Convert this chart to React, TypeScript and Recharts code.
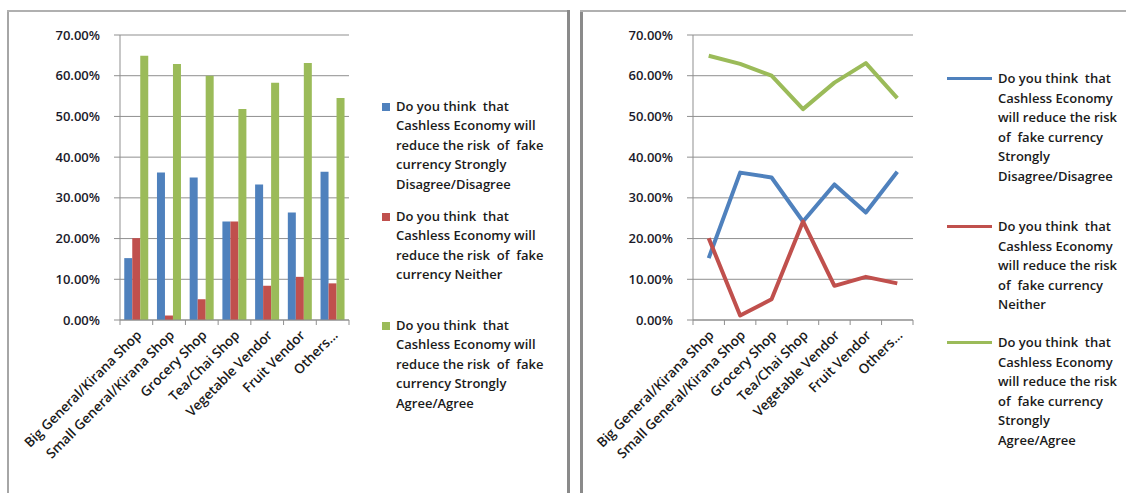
import React from 'react';
import { BarChart, Bar, LineChart, Line, XAxis, YAxis, CartesianGrid } from 'recharts';

const categories = [
  'Big General/Kirana Shop',
  'Small General/Kirana Shop',
  'Grocery Shop',
  'Tea/Chai Shop',
  'Vegetable Vendor',
  'Fruit Vendor',
  'Others...',
];
const disagree = [0.152, 0.362, 0.35, 0.242, 0.333, 0.264, 0.364];
const neither = [0.201, 0.011, 0.051, 0.242, 0.084, 0.106, 0.09];
const agree = [0.649, 0.629, 0.6, 0.518, 0.583, 0.631, 0.545];
const yTicks = [0, 0.1, 0.2, 0.3, 0.4, 0.5, 0.6, 0.7];

const seriesNames = [
  'Do you think  that Cashless Economy will reduce the risk  of  fake currency Strongly Disagree/Disagree',
  'Do you think  that Cashless Economy will reduce the risk  of  fake currency Neither',
  'Do you think  that Cashless Economy will reduce the risk  of  fake currency Strongly Agree/Agree',
];
const leftLegendLines = [
  ['Do you think  that', 'Cashless Economy will', 'reduce the risk  of  fake', 'currency Strongly', 'Disagree/Disagree'],
  ['Do you think  that', 'Cashless Economy will', 'reduce the risk  of  fake', 'currency Neither'],
  ['Do you think  that', 'Cashless Economy will', 'reduce the risk  of  fake', 'currency Strongly', 'Agree/Agree'],
];
const rightLegendLines = [
  ['Do you think  that', 'Cashless Economy', 'will reduce the risk', 'of  fake currency', 'Strongly', 'Disagree/Disagree'],
  ['Do you think  that', 'Cashless Economy', 'will reduce the risk', 'of  fake currency', 'Neither'],
  ['Do you think  that', 'Cashless Economy', 'will reduce the risk', 'of  fake currency', 'Strongly', 'Agree/Agree'],
];

const colors = ['#4F81BD', '#C0504D', '#9BBB59'];
const data = categories.map((c, i) => ({
  name: c,
  disagree: disagree[i],
  neither: neither[i],
  agree: agree[i],
}));

const FONT = '"Open Sans", sans-serif';
const GRID = '#8f8f8f';
const fmt = (v: number) => (v * 100).toFixed(2) + '%';

const makeXTick = (band: number, count: number) => (props: any) => {
  const { x, y, payload, index } = props;
  const ax = x + 6;
  const ay = y + 16;
  return (
    <g>
      <line x1={x - band / 2} x2={x - band / 2} y1={y} y2={y + 5} stroke={GRID} />
      {index === count - 1 && (
        <line x1={x + band / 2} x2={x + band / 2} y1={y} y2={y + 5} stroke={GRID} />
      )}
      <text
        x={ax}
        y={ay}
        textAnchor="end"
        transform={`rotate(-45, ${ax}, ${ay})`}
        fontFamily={FONT}
        fontSize={13.5}
        fontWeight={600}
        fill="#1a1a1a"
      >
        {payload.value}
      </text>
    </g>
  );
};

const yTickStyle = { fontFamily: FONT, fontSize: 13, fontWeight: 600, fill: '#1a1a2a' };

const LegendBlock = ({
  left,
  tops,
  lines,
  kind,
  lineHeight,
}: {
  left: number;
  tops: number[];
  lines: string[][];
  kind: 'square' | 'line';
  lineHeight: number;
}) => (
  <>
    {lines.map((ls, i) => (
      <div
        key={i}
        title={seriesNames[i]}
        style={{ position: 'absolute', left, top: tops[i], fontFamily: FONT, fontSize: 13, fontWeight: 600, color: '#1a1a1a', lineHeight: `${lineHeight}px`, whiteSpace: 'pre' }}
      >
        {kind === 'square' ? (
          <div style={{ position: 'absolute', left: -14, top: lineHeight / 2 - 4, width: 8, height: 8, background: colors[i] }} />
        ) : (
          <div style={{ position: 'absolute', left: -51, top: lineHeight / 2 - 1.5, width: 45, height: 3, background: colors[i] }} />
        )}
        {ls.map((l, j) => (
          <div key={j}>{l}</div>
        ))}
      </div>
    ))}
  </>
);

export default function App() {
  const leftBand = 229 / 7;
  const rightBand = 220 / 7;
  return (
    <div style={{ position: 'absolute', left: 0, top: 0, width: 1126, height: 493, background: '#fff', overflow: 'hidden' }}>
      {/* frames */}
      <div style={{ position: 'absolute', left: 7, top: 10, width: 2, height: 483, background: '#a6a6a6' }} />
      <div style={{ position: 'absolute', left: 7, top: 10, width: 562, height: 2, background: '#b0b0b0' }} />
      <div style={{ position: 'absolute', left: 567, top: 10, width: 3, height: 483, background: '#8a8a8a' }} />
      <div style={{ position: 'absolute', left: 580, top: 10, width: 3, height: 483, background: '#8a8a8a' }} />
      <div style={{ position: 'absolute', left: 580, top: 10, width: 546, height: 2, background: '#b0b0b0' }} />

      <div style={{ position: 'absolute', left: 8, top: 10 }}>
        <BarChart
          width={560}
          height={483}
          data={data}
          margin={{ top: 25, right: 219, left: 0, bottom: 0 }}
          barCategoryGap="13%"
          barGap={0}
        >
          <CartesianGrid vertical={false} stroke={GRID} />
          <XAxis
            dataKey="name"
            interval={0}
            height={173}
            tickSize={0}
            tickMargin={0}
            axisLine={{ stroke: GRID }}
            tickLine={false}
            tick={makeXTick(leftBand, categories.length)}
          />
          <YAxis
            width={112}
            domain={[0, 0.7]}
            ticks={yTicks}
            tickFormatter={fmt}
            axisLine={{ stroke: GRID }}
            tickLine={{ stroke: GRID }}
            tickSize={6}
            tickMargin={14}
            tick={yTickStyle}
          />
          <Bar dataKey="disagree" name={seriesNames[0]} fill={colors[0]} isAnimationActive={false} />
          <Bar dataKey="neither" name={seriesNames[1]} fill={colors[1]} isAnimationActive={false} />
          <Bar dataKey="agree" name={seriesNames[2]} fill={colors[2]} isAnimationActive={false} />
        </BarChart>
      </div>
      <LegendBlock left={396} tops={[97, 207, 316]} lines={leftLegendLines} kind="square" lineHeight={19.4} />

      <div style={{ position: 'absolute', left: 581, top: 10 }}>
        <LineChart
          width={545}
          height={483}
          data={data}
          margin={{ top: 25, right: 213, left: 0, bottom: 0 }}
        >
          <CartesianGrid vertical={false} stroke={GRID} />
          <XAxis
            dataKey="name"
            interval={0}
            height={173}
            tickSize={0}
            tickMargin={0}
            padding={{ left: rightBand / 2, right: rightBand / 2 }}
            axisLine={{ stroke: GRID }}
            tickLine={false}
            tick={makeXTick(rightBand, categories.length)}
          />
          <YAxis
            width={112}
            domain={[0, 0.7]}
            ticks={yTicks}
            tickFormatter={fmt}
            axisLine={{ stroke: GRID }}
            tickLine={{ stroke: GRID }}
            tickSize={6}
            tickMargin={14}
            tick={yTickStyle}
          />
          <Line dataKey="disagree" name={seriesNames[0]} stroke={colors[0]} strokeWidth={4} dot={false} isAnimationActive={false} strokeLinejoin="round" />
          <Line dataKey="neither" name={seriesNames[1]} stroke={colors[1]} strokeWidth={4} dot={false} isAnimationActive={false} strokeLinejoin="round" />
          <Line dataKey="agree" name={seriesNames[2]} stroke={colors[2]} strokeWidth={4} dot={false} isAnimationActive={false} strokeLinejoin="round" />
        </LineChart>
      </div>
      <LegendBlock left={998} tops={[69, 217, 333]} lines={rightLegendLines} kind="line" lineHeight={19.6} />
    </div>
  );
}
